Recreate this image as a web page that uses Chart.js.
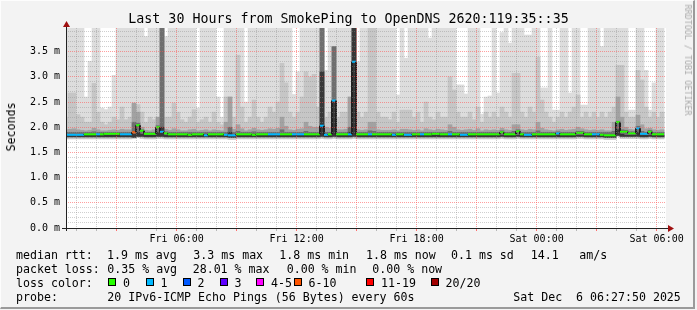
<!DOCTYPE html>
<html>
<head>
<meta charset="utf-8">
<title>SmokePing OpenDNS</title>
<script src="https://cdn.jsdelivr.net/npm/chart.js@4.4.0/dist/chart.umd.min.js"></script>
<style>
html, body { margin: 0; padding: 0; }
body { width: 697px; height: 310px; overflow: hidden; position: relative; background: #f3f3f3; font-family: "DejaVu Sans Mono", monospace; }
#frame { position: absolute; left: 0; top: 0; width: 692px; height: 306px; border-style: solid; border-width: 1px 2px 2px 1px; border-color: #fdfdfd #9a9a9a #9a9a9a #fdfdfd; }
#c { position: absolute; left: 0; top: 0; }
.t { position: absolute; white-space: pre; color: #000; font-size: 11.6px; line-height: 14px; }
.sq { position: absolute; width: 6px; height: 6px; border: 1px solid #000; }
#title { position: absolute; left: 0; width: 697px; top: 11px; text-align: center; white-space: pre; font-size: 13.3px; line-height: 16px; color: #000; }
#ylab { left: 11px; top: 127px; transform: translate(-50%, -50%) rotate(-90deg); }
#brand { left: 688px; top: 60px; transform: translate(-50%, -50%) rotate(90deg); font-size: 8.4px; line-height: 10px; color: #aaa; }
</style>
</head>
<body>
<div id="frame"></div>
<canvas id="c" width="697" height="310"></canvas>
<div id="title">Last 30 Hours from SmokePing to OpenDNS 2620:119:35::35</div>
<div class="t" id="ylab">Seconds</div>
<div class="t" id="brand">RRDTOOL / TOBI OETIKER</div>
<div id="legend"></div>
<script>
// time axis, hours after Fri 00:00
const xStart = 0.47, xEnd = 30.47;
const colFirst = 0.37, colStep = 0.2;   // 12 minute consolidated rows
const yMax = 3.97;                       // ms

const xTickHours = [6, 12, 18, 24, 30];
const xTickLabels = ['Fri 06:00', 'Fri 12:00', 'Fri 18:00', 'Sat 00:00', 'Sat 06:00'];

// smoke (sorted pings) per row, ms
const pingMax = [
 4,4,4,4,4,2.6,3.31,4,4,2.38, 2.35,2.4,3.03,4,4,4,4,4,4,4,
 3.8,4,4,4,4,3.8,4,4,4,4, 4,4,4,2.38,4,4,4,4,2.6,2.2,
 4,4,4,4,4,2.5,4,4,4,4, 4,4,4,4,4,4,4,2.65,3.1,4,
 4,4,4,4,4,3.13,4,4,4,4, 4,4,4,3.3,4,4,4,4,4,4,
 4,4,4,2.64,4,3.37,4,4,4,4, 4,3.77,4,4,4,4,4,4,2.84,2.84,
 2.66,4,4,4,2.26,2.6,2.62,4,2.68,3.88, 4,3.67,4,4,4,3.83,3.83,4,4,2.78,
 2.78,4,2.34,2.34,4,4,2.68,4,4,2.44, 2.44,4,4,4,3.6,4,4,4,4,4,
 4,2.34,2.34,4,4,3.13,2.34,2.88,4,4
];
const pingP80 = [
 2.2,2.68,2.68,2.25,2.2,2.1,2.1,2.87,2.3,2.1, 2.05,2.1,2.2,2.15,2.4,2.15,2.2,2.45,2.45,2.3,
 2.1,2.2,2.15,2.2,4,2.2,2.2,2.48,2.3,2.15, 2.1,2.2,2.35,2.1,2.15,2.2,2.1,2.3,2.1,2.05,
 2.6,2.6,2.2,3.43,2.4,2.1,2.2,2.54,2.2,2.1, 2.2,2.4,2.3,2.5,3.27,2.88,2.3,2.2,2.3,2.6,
 3.1,3.0,3.05,2.4,4,2.2,2.3,3.6,2.2,2.3, 2.3,2.6,4,2.3,2.2,2.3,4,4,2.3,2.2,
 2.2,2.15,2.3,2.1,2.34,2.34,2.34,2.2,2.3,2.1, 2.5,2.2,2.15,2.3,2.2,2.2,3.0,2.74,2.3,2.2,
 2.2,2.3,2.15,2.4,2.1,2.3,2.2,2.3,2.2,2.4, 2.3,2.2,3.07,3.07,2.3,2.2,2.4,2.3,3.39,2.54,
 2.3,2.2,2.1,2.2,2.3,2.2,2.3,2.4,2.64,2.2, 2.3,2.2,2.3,2.2,2.3,2.2,2.3,2.4,3.23,3.23,
 2.3,2.2,2.2,3.13,2.94,2.4,2.2,2.3,2.2,2.3
];
const pingP60 = [
 1.95,1.96,1.97,1.95,1.94,1.93,1.94,1.98,1.95,1.93, 1.93,1.94,1.95,1.94,1.96,1.95,1.95,2.48,2.3,2.0,
 1.94,1.93,1.95,2.2,4,1.96,1.94,1.97,1.95,1.93, 1.93,1.95,1.96,1.93,1.94,1.95,1.93,1.95,1.94,1.93,
 2.1,2.6,1.96,2.05,1.97,1.93,1.95,1.98,1.95,1.94, 1.95,1.97,1.96,1.98,2.2,2.02,1.95,1.94,1.96,1.97,
 2.1,2.02,2.0,2.0,4,2.0,1.98,3.6,1.95,1.95, 1.96,2.6,4,1.95,1.94,1.95,2.1,2.1,1.95,1.94,
 1.94,1.94,1.95,1.93,1.96,1.96,1.95,1.94,1.95,1.93, 1.97,1.95,1.94,1.96,1.95,1.94,2.05,2.0,1.95,1.94,
 1.95,1.96,1.94,1.97,1.93,1.95,1.94,1.95,1.94,1.98, 1.95,1.94,2.05,2.05,1.95,1.94,1.96,1.95,2.1,1.98,
 1.95,1.94,1.93,1.95,1.96,1.94,1.95,1.96,2.0,1.97, 1.95,1.94,1.95,1.94,1.95,1.93,1.93,2.1,2.6,2.2,
 2.0,1.96,1.95,2.24,2.05,1.97,1.98,1.95,1.94,1.95
];
const pingP55 = [
 1.9,1.9,1.9,1.9,1.9,1.9,1.9,1.91,1.9,1.9, 1.9,1.9,1.9,1.9,1.9,1.9,1.9,2.1,2.08,1.95,
 1.9,1.9,1.9,2.03,4,1.91,1.9,1.9,1.9,1.9, 1.9,1.9,1.9,1.9,1.9,1.9,1.9,1.9,1.9,1.9,
 1.9,2.0,1.9,1.92,1.9,1.9,1.9,1.91,1.9,1.9, 1.9,1.9,1.9,1.9,1.95,1.9,1.9,1.9,1.9,1.9,
 1.92,1.9,1.9,1.9,4,1.9,1.9,3.6,1.9,1.9, 1.9,2.0,4,1.9,1.9,1.9,1.93,1.92,1.9,1.9,
 1.9,1.9,1.9,1.9,1.9,1.9,1.9,1.9,1.9,1.9, 1.9,1.9,1.9,1.9,1.9,1.9,1.92,1.9,1.9,1.9,
 1.9,1.9,1.9,1.9,1.9,1.9,1.9,1.9,1.9,1.93, 1.9,1.9,1.92,1.95,1.9,1.9,1.9,1.9,1.93,1.9,
 1.9,1.9,1.9,1.91,1.9,1.9,1.9,1.9,1.92,1.92, 1.9,1.9,1.9,1.9,1.9,1.9,1.9,1.92,2.12,1.95,
 1.94,1.91,1.91,2.02,1.92,1.9,1.94,1.9,1.9,1.9
];
const pingP50 = [
 1.84,1.84,1.84,1.84,1.84,1.84,1.84,1.84,1.84,1.84, 1.84,1.84,1.84,1.84,1.84,1.84,1.84,1.86,1.9,1.86,
 1.84,1.84,1.84,1.9,2.0,1.84,1.84,1.84,1.84,1.84, 1.84,1.84,1.84,1.84,1.84,1.84,1.84,1.84,1.84,1.84,
 1.84,1.9,1.84,1.84,1.84,1.84,1.84,1.84,1.84,1.84, 1.84,1.84,1.84,1.84,1.84,1.84,1.84,1.84,1.84,1.84,
 1.84,1.84,1.84,1.84,3.1,1.84,1.84,2.5,1.84,1.84, 1.84,1.9,4,1.84,1.84,1.84,1.84,1.84,1.84,1.84,
 1.84,1.84,1.84,1.84,1.84,1.84,1.84,1.84,1.84,1.84, 1.84,1.84,1.84,1.84,1.84,1.84,1.84,1.84,1.84,1.84,
 1.84,1.84,1.84,1.84,1.84,1.84,1.84,1.84,1.84,1.84, 1.84,1.84,1.84,1.84,1.84,1.84,1.84,1.84,1.84,1.84,
 1.84,1.84,1.84,1.84,1.84,1.84,1.84,1.84,1.84,1.84, 1.84,1.84,1.84,1.84,1.84,1.84,1.84,1.84,1.95,1.86,
 1.84,1.84,1.84,1.9,1.84,1.84,1.84,1.84,1.84,1.84
];
const pingLow = [
 1.81,1.81,1.81,1.81,1.81,1.81,1.81,1.81,1.81,1.81, 1.81,1.81,1.81,1.81,1.81,1.81,1.81,1.8,1.82,1.82,
 1.81,1.81,1.81,1.82,1.82,1.81,1.81,1.81,1.81,1.81, 1.81,1.81,1.81,1.81,1.81,1.81,1.81,1.81,1.81,1.81,
 1.81,1.8,1.8,1.81,1.81,1.81,1.81,1.81,1.81,1.81, 1.81,1.81,1.81,1.81,1.81,1.81,1.81,1.81,1.81,1.81,
 1.81,1.81,1.81,1.81,1.82,1.81,1.81,1.82,1.81,1.81, 1.81,1.81,1.82,1.81,1.81,1.81,1.81,1.81,1.81,1.81,
 1.81,1.81,1.81,1.81,1.81,1.81,1.81,1.81,1.81,1.81, 1.81,1.81,1.81,1.81,1.81,1.81,1.81,1.81,1.81,1.81,
 1.81,1.81,1.81,1.81,1.81,1.81,1.81,1.81,1.81,1.82, 1.81,1.81,1.81,1.82,1.81,1.81,1.81,1.81,1.81,1.81,
 1.81,1.81,1.81,1.81,1.81,1.81,1.81,1.81,1.82,1.82, 1.81,1.81,1.81,1.81,1.81,1.8,1.8,1.8,1.84,1.82,
 1.82,1.82,1.82,1.82,1.81,1.81,1.82,1.81,1.81,1.81
];
const pingMin = [
 1.77,1.77,1.77,1.77,1.77,1.77,1.77,1.77,1.77,1.77, 1.77,1.77,1.77,1.77,1.77,1.77,1.77,1.78,1.8,1.78,
 1.77,1.77,1.77,1.78,1.78,1.77,1.77,1.77,1.77,1.77, 1.77,1.77,1.77,1.77,1.77,1.77,1.77,1.77,1.77,1.77,
 1.77,1.76,1.76,1.77,1.77,1.77,1.77,1.77,1.77,1.77, 1.77,1.77,1.77,1.77,1.77,1.77,1.77,1.77,1.77,1.77,
 1.77,1.77,1.77,1.77,1.78,1.77,1.77,1.78,1.77,1.77, 1.77,1.77,1.78,1.77,1.77,1.77,1.77,1.77,1.77,1.77,
 1.77,1.77,1.77,1.77,1.77,1.77,1.77,1.77,1.77,1.77, 1.77,1.77,1.77,1.77,1.77,1.77,1.77,1.77,1.77,1.77,
 1.77,1.77,1.77,1.77,1.77,1.77,1.77,1.77,1.77,1.78, 1.77,1.77,1.77,1.78,1.77,1.77,1.77,1.77,1.77,1.77,
 1.77,1.77,1.77,1.77,1.77,1.77,1.77,1.77,1.78,1.78, 1.77,1.77,1.77,1.77,1.77,1.76,1.76,1.76,1.82,1.78,
 1.78,1.78,1.78,1.78,1.77,1.77,1.78,1.77,1.77,1.77
];
const median = [
 1.85,1.85,1.85,1.85,1.85,1.86,1.86,1.86,1.86,1.86, 1.87,1.87,1.87,1.87,1.86,1.86,1.86,1.9,2.04,1.93,
 1.87,1.87,1.87,2.0,1.91,1.88,1.86,1.86,1.86,1.86, 1.86,1.85,1.86,1.86,1.86,1.84,1.86,1.86,1.86,1.86,
 1.85,1.84,1.84,1.86,1.86,1.86,1.86,1.85,1.86,1.86, 1.86,1.86,1.86,1.86,1.86,1.86,1.86,1.86,1.86,1.86,
 1.86,1.86,1.86,1.86,2.03,1.85,1.86,2.53,1.86,1.86, 1.86,1.86,3.3,1.86,1.86,1.86,1.86,1.86,1.86,1.86,
 1.86,1.86,1.85,1.86,1.86,1.85,1.85,1.86,1.86,1.86, 1.86,1.86,1.87,1.87,1.86,1.86,1.86,1.86,1.86,1.85,
 1.85,1.86,1.86,1.86,1.86,1.86,1.86,1.86,1.86,1.9, 1.86,1.86,1.86,1.92,1.86,1.85,1.85,1.86,1.86,1.86,
 1.86,1.86,1.86,1.88,1.86,1.86,1.86,1.86,1.89,1.89, 1.86,1.86,1.86,1.86,1.85,1.84,1.84,1.84,2.1,1.91,
 1.91,1.88,1.88,1.98,1.87,1.87,1.91,1.86,1.86,1.86
];
// lost pings out of 20 per row
const lossCount = [
 1,1,1,1,1,0,0,0,1,0, 0,0,0,0,1,1,1,6,0,0,
 0,0,0,0,1,0,0,0,0,0, 0,0,0,0,0,1,0,0,0,0,
 1,1,1,0,0,0,0,0,0,0, 0,1,1,1,0,0,0,1,1,1,
 0,0,0,0,1,1,0,1,0,0, 0,1,1,0,0,0,1,0,0,0,
 0,0,1,0,0,1,1,0,0,1, 0,0,0,0,0,0,1,0,0,1,
 1,0,0,0,0,0,0,0,0,0, 0,0,0,0,0,1,1,0,0,0,
 0,0,0,1,0,0,0,0,0,0, 0,0,1,1,0,0,0,0,0,0,
 0,0,0,1,1,1,0,0,0,0
];

const lossBuckets = ['0', '1', '2', '3', '4-5', '6-10', '11-19', '20/20'];
const lossColors = ['#26ff00', '#00b8ff', '#0059ff', '#5e00ff', '#ff00ff', '#ff5500', '#ff0000', '#a10000'];

const statLines = [
  [254, [[16, 'median rtt:'], [107, '1.9 ms avg'], [193.3, '3.3 ms max'], [279.3, '1.8 ms min'], [366, '1.8 ms now'], [451, '0.1 ms sd'], [530.7, '14.1'], [579.3, 'am/s']]],
  [268, [[16, 'packet loss:'], [107.3, '0.35 % avg'], [192.7, '28.01 % max'], [286.7, '0.00 % min'], [372.3, '0.00 % now']]],
  [282, [[16, 'loss color:']]],
  [296, [[16, 'probe:'], [107.3, '20 IPv6-ICMP Echo Pings (56 Bytes) every 60s'], [513.3, 'Sat Dec  6 06:27:50 2025']]]
];
const swatchX = [108, 145.5, 182.5, 219.5, 256, 293.5, 366, 430.5];

function lossIndex(n){
    if(n <= 3) return n;
    if(n <= 5) return 4;
    if(n <= 10) return 5;
    if(n <= 19) return 6;
    return 7;
}

// legend below the graph
const legend = document.getElementById('legend');
statLines.forEach(([cy, items]) => {
    items.forEach(([x, txt]) => {
        const d = document.createElement('div');
        d.className = 't';
        d.style.left = x + 'px';
        d.style.top = (cy - 6.5) + 'px';
        d.textContent = txt;
        legend.appendChild(d);
    });
});
lossBuckets.forEach((lab, k) => {
    const s = document.createElement('div');
    s.className = 'sq';
    s.style.left = swatchX[k] + 'px';
    s.style.top = '278px';
    s.style.background = lossColors[k];
    legend.appendChild(s);
    const d = document.createElement('div');
    d.className = 't';
    d.style.left = (swatchX[k] + 15) + 'px';
    d.style.top = (282 - 6.5) + 'px';
    d.textContent = lab;
    legend.appendChild(d);
});

const colCenter = i => colFirst + colStep * (i + 0.5);
function band(lo, hi){
    return hi.map((h, i) => ({x: colCenter(i), y: [lo[i], h]}));
}
const medianPts = [];
median.forEach((m, i) => {
    medianPts.push({x: colFirst + colStep * i, y: m});
    medianPts.push({x: colFirst + colStep * (i + 1), y: m});
});

const gridHours = [];
for(let h = 1; h <= 30; h++) gridHours.push(h);
const yGrid = [];
for(let k = 0; k <= 39; k++) yGrid.push(k / 10);

const isMajorY = v => Math.abs(v * 2 - Math.round(v * 2)) < 1e-6;
const gridMinor = 'rgba(140,140,140,0.42)';
const gridMajor = 'rgba(255,80,80,0.55)';
const monoFont = {family: 'DejaVu Sans Mono', size: 10};

const barBase = {grouped: false, barThickness: 4, borderWidth: 0};

const plotBg = {
    id: 'plotBg',
    beforeDraw(chart){
        const {ctx, chartArea: a} = chart;
        ctx.save();
        ctx.fillStyle = '#ffffff';
        ctx.fillRect(a.left, a.top, a.right - a.left, a.bottom - a.top);
        ctx.restore();
    }
};

const axes = {
    id: 'axes',
    afterDraw(chart){
        const {ctx, chartArea: a} = chart;
        const x0 = a.left + 0.5, y0 = a.bottom + 0.5;
        ctx.save();
        ctx.strokeStyle = '#222';
        ctx.lineWidth = 1;
        ctx.beginPath();
        ctx.moveTo(x0, a.bottom + 3);
        ctx.lineTo(x0, a.top - 2);
        ctx.moveTo(a.left - 4, y0);
        ctx.lineTo(a.right + 2, y0);
        ctx.stroke();
        ctx.fillStyle = '#a01010';
        ctx.beginPath();
        ctx.moveTo(x0, a.top - 7);
        ctx.lineTo(x0 - 3.5, a.top - 1);
        ctx.lineTo(x0 + 3.5, a.top - 1);
        ctx.closePath();
        ctx.fill();
        ctx.beginPath();
        ctx.moveTo(a.right + 8, y0);
        ctx.lineTo(a.right + 2, y0 - 3.5);
        ctx.lineTo(a.right + 2, y0 + 3.5);
        ctx.closePath();
        ctx.fill();
        ctx.restore();
    }
};

new Chart(document.getElementById('c'), {
    type: 'bar',
    data: {
        datasets: [
            {...barBase, data: band(pingMin, pingMax), backgroundColor: '#dddddd', order: 6},
            {...barBase, data: band(pingMin, pingP80), backgroundColor: '#c6c6c6', order: 5},
            {...barBase, data: band(pingLow, pingP60), backgroundColor: '#a2a2a2', order: 4},
            {...barBase, data: band(pingLow, pingP55), backgroundColor: '#6e6e6e', order: 3},
            {...barBase, data: band(pingLow, pingP50), backgroundColor: '#383838', order: 2},
            {
                type: 'line',
                data: medianPts,
                borderWidth: 2,
                borderColor: '#202020',
                pointRadius: 0,
                tension: 0,
                borderCapStyle: 'butt',
                segment: {
                    borderColor: c => c.p0DataIndex % 2 === 0
                        ? lossColors[lossIndex(lossCount[c.p0DataIndex / 2])]
                        : '#202020'
                },
                order: 1
            }
        ]
    },
    options: {
        responsive: false,
        animation: false,
        devicePixelRatio: 1,
        events: [],
        layout: {padding: {left: 0, right: 31, top: 28, bottom: 0}},
        plugins: {legend: {display: false}, tooltip: {enabled: false}, title: {display: false}},
        scales: {
            x: {
                type: 'linear',
                min: xStart,
                max: xEnd,
                offset: false,
                afterFit: s => { s.height = 82; },
                afterBuildTicks: s => { s.ticks = gridHours.map(v => ({value: v})); },
                ticks: {
                    autoSkip: false,
                    maxRotation: 0,
                    padding: 2,
                    color: '#000',
                    font: monoFont,
                    callback: v => {
                        const k = xTickHours.indexOf(v);
                        return k < 0 ? '' : xTickLabels[k];
                    }
                },
                grid: {
                    z: 1,
                    offset: false,
                    tickLength: 3,
                    color: c => c.tick && c.tick.value % 3 === 0 ? gridMajor : gridMinor,
                    tickColor: c => c.tick && c.tick.value % 3 === 0 ? '#ff7070' : '#b8b8b8'
                },
                border: {display: false, dash: [1, 1]}
            },
            y: {
                min: 0,
                max: yMax,
                afterFit: s => { s.width = 66; },
                afterBuildTicks: s => { s.ticks = yGrid.map(v => ({value: v})); },
                ticks: {
                    autoSkip: false,
                    padding: 6,
                    color: '#000',
                    font: monoFont,
                    callback: v => isMajorY(v) ? v.toFixed(1) + ' m' : ''
                },
                grid: {
                    z: 1,
                    drawTicks: false,
                    color: c => c.tick && isMajorY(c.tick.value) ? gridMajor : gridMinor
                },
                border: {display: false, dash: [1, 1]}
            }
        }
    },
    plugins: [plotBg, axes]
});
</script>
</body>
</html>
